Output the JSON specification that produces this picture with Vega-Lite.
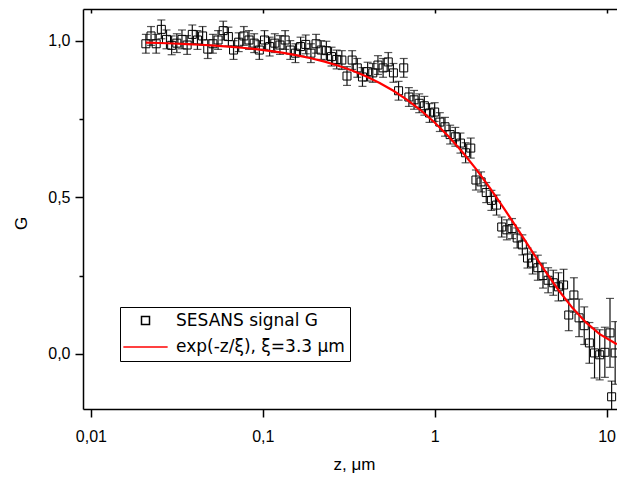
{
"$schema": "https://vega.github.io/schema/vega-lite/v6.json",
"width": 534, "height": 400,
"autosize": {"type": "none"},
"padding": {"left": 83, "top": 9, "right": 0, "bottom": 71},
"background": "white",
"config": {
  "font": "Liberation Sans",
  "view": {"stroke": null},
  "axis": {"domainColor": "black", "domainWidth": 1.5, "tickColor": "black", "tickWidth": 1.5, "labelColor": "black", "titleColor": "black", "labelFontSize": 16, "titleFontSize": 17, "titleFontWeight": "normal", "grid": false, "labelFont": "Liberation Sans", "titleFont": "Liberation Sans"}
},
"datasets": {
  "pts": [
{"z":0.020893,"G":0.99,"e":0.03},
{"z":0.022387,"G":1.015,"e":0.03},
{"z":0.023988,"G":0.99,"e":0.03},
{"z":0.025704,"G":1.036,"e":0.03},
{"z":0.027542,"G":1.004,"e":0.03},
{"z":0.029512,"G":0.985,"e":0.03},
{"z":0.031623,"G":0.992,"e":0.03},
{"z":0.033884,"G":1.004,"e":0.03},
{"z":0.036308,"G":0.986,"e":0.03},
{"z":0.038905,"G":1.02,"e":0.03},
{"z":0.041687,"G":1.002,"e":0.03},
{"z":0.044668,"G":1.015,"e":0.03},
{"z":0.047863,"G":0.973,"e":0.03},
{"z":0.051286,"G":0.99,"e":0.03},
{"z":0.054954,"G":1.002,"e":0.03},
{"z":0.058884,"G":1.032,"e":0.03},
{"z":0.063096,"G":1.013,"e":0.03},
{"z":0.067608,"G":0.97,"e":0.03},
{"z":0.072444,"G":0.995,"e":0.03},
{"z":0.077625,"G":1.015,"e":0.03},
{"z":0.083176,"G":1.002,"e":0.03},
{"z":0.089125,"G":0.992,"e":0.03},
{"z":0.095499,"G":0.97,"e":0.03},
{"z":0.10233,"G":1.002,"e":0.03},
{"z":0.10965,"G":0.981,"e":0.03},
{"z":0.11749,"G":0.992,"e":0.03},
{"z":0.12589,"G":0.986,"e":0.03},
{"z":0.1349,"G":1.002,"e":0.03},
{"z":0.14454,"G":0.97,"e":0.03},
{"z":0.15488,"G":0.96,"e":0.03},
{"z":0.16596,"G":0.981,"e":0.03},
{"z":0.17783,"G":0.988,"e":0.03},
{"z":0.19055,"G":0.96,"e":0.03},
{"z":0.20417,"G":0.99,"e":0.03},
{"z":0.21878,"G":0.97,"e":0.03},
{"z":0.23442,"G":0.968,"e":0.03},
{"z":0.25119,"G":0.949,"e":0.03},
{"z":0.26915,"G":0.94,"e":0.03},
{"z":0.2884,"G":0.938,"e":0.03},
{"z":0.30903,"G":0.887,"e":0.03},
{"z":0.33113,"G":0.938,"e":0.03},
{"z":0.35481,"G":0.913,"e":0.03},
{"z":0.38019,"G":0.884,"e":0.03},
{"z":0.40738,"G":0.901,"e":0.03},
{"z":0.43652,"G":0.897,"e":0.03},
{"z":0.46774,"G":0.922,"e":0.03},
{"z":0.50119,"G":0.913,"e":0.03},
{"z":0.53703,"G":0.932,"e":0.03},
{"z":0.57544,"G":0.897,"e":0.03},
{"z":0.6166,"G":0.84,"e":0.03},
{"z":0.66069,"G":0.913,"e":0.03},
{"z":0.70795,"G":0.82,"e":0.03},
{"z":0.75858,"G":0.811,"e":0.03},
{"z":0.81283,"G":0.8,"e":0.03},
{"z":0.87096,"G":0.792,"e":0.03},
{"z":0.93325,"G":0.769,"e":0.03},
{"z":1.0,"G":0.772,"e":0.03},
{"z":1.0715,"G":0.74,"e":0.03},
{"z":1.1482,"G":0.725,"e":0.03},
{"z":1.2303,"G":0.7,"e":0.03},
{"z":1.3183,"G":0.693,"e":0.03},
{"z":1.4125,"G":0.673,"e":0.032},
{"z":1.5136,"G":0.642,"e":0.032},
{"z":1.6218,"G":0.657,"e":0.032},
{"z":1.7378,"G":0.555,"e":0.032},
{"z":1.8621,"G":0.549,"e":0.032},
{"z":1.9953,"G":0.515,"e":0.032},
{"z":2.138,"G":0.49,"e":0.032},
{"z":2.2909,"G":0.475,"e":0.032},
{"z":2.4547,"G":0.405,"e":0.032},
{"z":2.6303,"G":0.396,"e":0.032},
{"z":2.8184,"G":0.4,"e":0.032},
{"z":3.02,"G":0.37,"e":0.032},
{"z":3.2359,"G":0.348,"e":0.032},
{"z":3.4674,"G":0.306,"e":0.032},
{"z":3.7154,"G":0.29,"e":0.035},
{"z":3.9811,"G":0.275,"e":0.04},
{"z":4.2658,"G":0.25,"e":0.04},
{"z":4.5709,"G":0.235,"e":0.04},
{"z":4.8978,"G":0.227,"e":0.04},
{"z":5.2481,"G":0.214,"e":0.045},
{"z":5.6234,"G":0.22,"e":0.05},
{"z":6.0256,"G":0.124,"e":0.05},
{"z":6.4565,"G":0.188,"e":0.055},
{"z":6.9183,"G":0.115,"e":0.06},
{"z":7.4131,"G":0.09,"e":0.06},
{"z":7.9433,"G":0.035,"e":0.065},
{"z":8.5114,"G":0.003,"e":0.08},
{"z":9.1201,"G":-0.003,"e":0.08},
{"z":9.7724,"G":0.005,"e":0.08},
{"z":10.471,"G":0.067,"e":0.11},
{"z":10.7,"G":-0.137,"e":0.05},
{"z":11.22,"G":0.003,"e":0.1}
  ],
  "fit": [
{"z":0.02089,"G":0.99369},
{"z":0.02512,"G":0.99242},
{"z":0.0302,"G":0.99089},
{"z":0.03631,"G":0.98906},
{"z":0.04365,"G":0.98686},
{"z":0.05248,"G":0.98422},
{"z":0.0631,"G":0.98106},
{"z":0.07586,"G":0.97727},
{"z":0.0912,"G":0.97274},
{"z":0.10965,"G":0.96732},
{"z":0.13183,"G":0.96084},
{"z":0.15849,"G":0.95311},
{"z":0.19055,"G":0.9439},
{"z":0.22909,"G":0.93293},
{"z":0.27542,"G":0.91993},
{"z":0.33113,"G":0.90452},
{"z":0.39811,"G":0.88635},
{"z":0.47863,"G":0.86499},
{"z":0.57544,"G":0.83998},
{"z":0.69183,"G":0.81087},
{"z":0.83176,"G":0.77721},
{"z":1.0,"G":0.73859},
{"z":1.2023,"G":0.69467},
{"z":1.4454,"G":0.64533},
{"z":1.7378,"G":0.59061},
{"z":2.0893,"G":0.53093},
{"z":2.5119,"G":0.46713},
{"z":3.02,"G":0.40045},
{"z":3.6308,"G":0.3328},
{"z":4.3652,"G":0.26637},
{"z":5.2481,"G":0.20389},
{"z":6.3096,"G":0.14779},
{"z":7.5858,"G":0.10038},
{"z":9.1201,"G":0.06307},
{"z":11.482,"G":0.03083}
  ]
},
"layer": [
  {
    "data": {"name": "pts"},
    "mark": {"type": "errorbar", "ticks": {"size": 8, "thickness": 1.2, "color": "#111"}, "rule": {"color": "#111", "strokeWidth": 1.2}, "clip": true},
    "encoding": {
      "x": {"field": "z", "type": "quantitative", "scale": {"type": "log", "domain": [0.009, 11.5], "nice": false},
        "axis": {"orient": "bottom", "values": [0.01, 0.1, 1, 10], "labelExpr": "replace(format(datum.value, '~g'), '.', ',')", "tickSize": 8, "labelPadding": 11, "labelFlush": false, "labelOverlap": false, "title": "z, μm", "titlePadding": 12, "titleX": 271}},
      "y": {"field": "G", "type": "quantitative", "scale": {"domain": [-0.176, 1.101], "nice": false, "zero": false},
        "axis": {"values": [0, 0.25, 0.5, 0.75, 1], "labelExpr": "datum.value == 0 ? '0,0' : datum.value == 0.5 ? '0,5' : datum.value == 1 ? '1,0' : ''", "tickSize": {"condition": {"test": "datum.value == 0.25 || datum.value == 0.75", "value": 4}, "value": 8}, "labelPadding": 5, "labelOverlap": false, "title": "G", "titleX": -57, "titleY": 214, "titleAngle": 270, "titleBaseline": "alphabetic", "titleAlign": "center"}},
      "yError": {"field": "e"}
    }
  },
  {
    "data": {"name": "pts"},
    "mark": {"type": "point", "filled": false, "strokeWidth": 1, "opacity": 1, "clip": true},
    "encoding": {
      "x": {"field": "z", "type": "quantitative", "axis": null},
      "y": {"field": "G", "type": "quantitative"},
      "color": {"datum": "SESANS signal G", "type": "nominal",
        "scale": {"domain": ["SESANS signal G", "exp(-z/ξ), ξ=3.3 μm"], "range": ["black", "#ff0000"]},
        "legend": {"title": null, "orient": "none", "legendX": 37, "legendY": 298, "strokeColor": "black", "fillColor": "white", "padding": 5, "labelFont": "DejaVu Sans", "labelFontSize": 17, "labelColor": "black", "labelLimit": 400, "symbolOffset": 12, "labelOffset": 22, "rowPadding": 8.6, "symbolStrokeWidth": 1.5}},
      "shape": {"datum": "SESANS signal G", "type": "nominal",
        "scale": {"domain": ["SESANS signal G", "exp(-z/ξ), ξ=3.3 μm"], "range": ["square", "M-4.92,0H4.92"]}},
      "size": {"datum": "SESANS signal G", "type": "nominal",
        "scale": {"domain": ["SESANS signal G", "exp(-z/ξ), ξ=3.3 μm"], "range": [64, 81]}}
    }
  },
  {
    "data": {"name": "fit"},
    "mark": {"type": "line", "color": "#ff0000", "strokeWidth": 2.2, "clip": true},
    "encoding": {
      "x": {"field": "z", "type": "quantitative", "axis": {"orient": "top", "values": [0.01, 0.1, 1, 10], "labels": false, "title": null, "tickSize": -4}},
      "y": {"field": "G", "type": "quantitative"}
    }
  }
],
"resolve": {"axis": {"x": "independent"}}
}
